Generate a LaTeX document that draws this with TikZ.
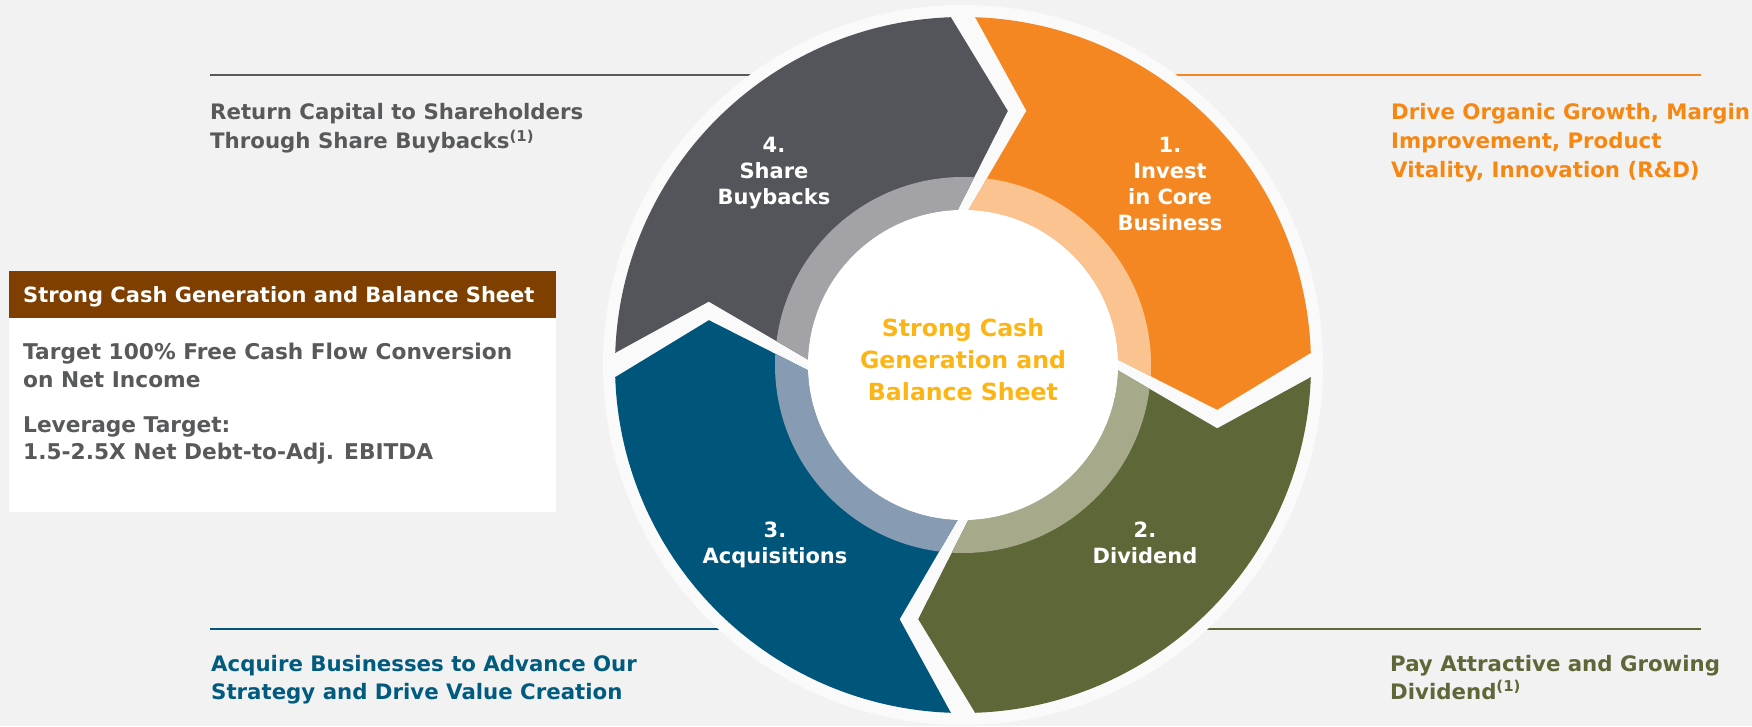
\documentclass[tikz,border=0pt]{standalone}
\usepackage{fontspec}
\setmainfont{DejaVu Sans}
\definecolor{bgcol}{HTML}{F2F2F2}
\definecolor{ringcol}{HTML}{FAFAFA}
\definecolor{buygray}{HTML}{54555A}
\definecolor{investorange}{HTML}{F58722}
\definecolor{divgreen}{HTML}{5E6738}
\definecolor{acqblue}{HTML}{00557A}
\definecolor{buylight}{HTML}{A3A2A6}
\definecolor{investlight}{HTML}{FBC390}
\definecolor{divlight}{HTML}{A7A98B}
\definecolor{acqlight}{HTML}{879CB2}
\definecolor{headbrown}{HTML}{7E3F00}
\definecolor{txtgray}{HTML}{58595B}
\definecolor{txtorange}{HTML}{F68712}
\definecolor{txtblue}{HTML}{005B7F}
\definecolor{centergold}{HTML}{FDB515}

% one chevron of the cycle, tail angle (runs 90 degrees clockwise)
\newcommand{\segpath}[1]{(#1-2:348) arc[start angle=#1-2, end angle=#1-88, radius=348]
    -- (#1-100:258) -- (#1-88:155)
    arc[start angle=#1-88, end angle=#1-2, radius=155]
    -- (#1-14:262) -- cycle}
% tail angle, colour, light colour of the inner band
\newcommand{\cycleseg}[3]{%
  \fill[#2] \segpath{#1};
  \begin{scope}
    \clip \segpath{#1};
    \fill[#3] (0,0) circle[radius=188];
  \end{scope}
}
\newcommand{\noteone}{\textsuperscript{(1)}}

\begin{document}
\begin{tikzpicture}[x=1pt,y=1pt,
    lbl/.style={anchor=base west, inner sep=0pt, font=\bfseries\fontsize{21.3}{29}\selectfont},
    seglbl/.style={anchor=base, inner sep=0pt, white, font=\bfseries\fontsize{21}{26}\selectfont},
    midlbl/.style={anchor=base, inner sep=0pt, centergold, font=\bfseries\fontsize{23.6}{31}\selectfont},
    rule/.style={line width=2.5pt}]
    \useasboundingbox (0,0) rectangle (1752,726);
    \fill[bgcol] (0,0) rectangle (1752,726);

    % rules next to the texts
    \draw[rule, txtgray] (210,651) -- (827,651);
    \draw[rule, investorange] (1125,651) -- (1701,651);
    \draw[rule, acqblue] (210,97) -- (760,97);
    \draw[rule, divgreen] (1170,97) -- (1701,97);

    % the cycle
    \begin{scope}[shift={(963,361)}]
    \fill[ringcol] (0,0) circle[radius=360];
    \cycleseg{180}{buygray}{buylight}
    \cycleseg{90}{investorange}{investlight}
    \cycleseg{0}{divgreen}{divlight}
    \cycleseg{270}{acqblue}{acqlight}
    \fill[white] (0,0) circle[radius=155];
    \end{scope}

    \foreach \t [count=\i] in {4., Share, Buybacks}
        \node[seglbl] (buy\i) at (774,599-26*\i) {\t};
    \foreach \t [count=\i] in {1., Invest, in Core, Business}
        \node[seglbl] (inv\i) at (1170,599-26*\i) {\t};
    \foreach \t [count=\i] in {3., Acquisitions}
        \node[seglbl] (acq\i) at (775,215-26*\i) {\t};
    \foreach \t [count=\i] in {2., Dividend}
        \node[seglbl] (div\i) at (1145,215-26*\i) {\t};
    \foreach \t [count=\i] in {Strong Cash, Generation and, Balance Sheet}
        \node[midlbl] (mid\i) at (963,421-32*\i) {\t};

    % texts round the cycle
    \foreach \t [count=\i] in {Return Capital to Shareholders, Through Share Buybacks\noteone}
        \node[lbl, txtgray] (buytxt\i) at (210,635-29*\i) {\t};
    \foreach \t [count=\i] in {{Drive Organic Growth, Margin}, {Improvement, Product}, {Vitality, Innovation (R\&D)}}
        \node[lbl, txtorange] (invtxt\i) at (1391,635-29*\i) {\t};
    \foreach \t [count=\i] in {Acquire Businesses to Advance Our, Strategy and Drive Value Creation}
        \node[lbl, txtblue] (acqtxt\i) at (211,83-28*\i) {\t};
    \foreach \t [count=\i] in {Pay Attractive and Growing, Dividend\noteone}
        \node[lbl, divgreen] (divtxt\i) at (1390,83-28*\i) {\t};

    % cash box
    \fill[white] (9,214) rectangle (556,408);
    \fill[headbrown] (9,408) rectangle (556,455);
    \node[lbl, white, font=\bfseries\fontsize{21}{26}\selectfont] (boxhead) at (23,423) {Strong Cash Generation and Balance Sheet};
    \node[lbl, txtgray, font=\bfseries\fontsize{21.7}{29}\selectfont] (box1) at (23,366) {Target 100\% Free Cash Flow Conversion};
    \node[lbl, txtgray, font=\bfseries\fontsize{21.7}{29}\selectfont] (box2) at (23,338) {on Net Income};
    \node[lbl, txtgray, font=\bfseries\fontsize{21.7}{29}\selectfont] (box3) at (23,294) {Leverage Target:};
    \node[lbl, txtgray, font=\bfseries\fontsize{21.7}{29}\selectfont] (box4) at (23,267) {1.5-2.5X Net Debt-to-Adj. EBITDA};
\end{tikzpicture}
\end{document}
